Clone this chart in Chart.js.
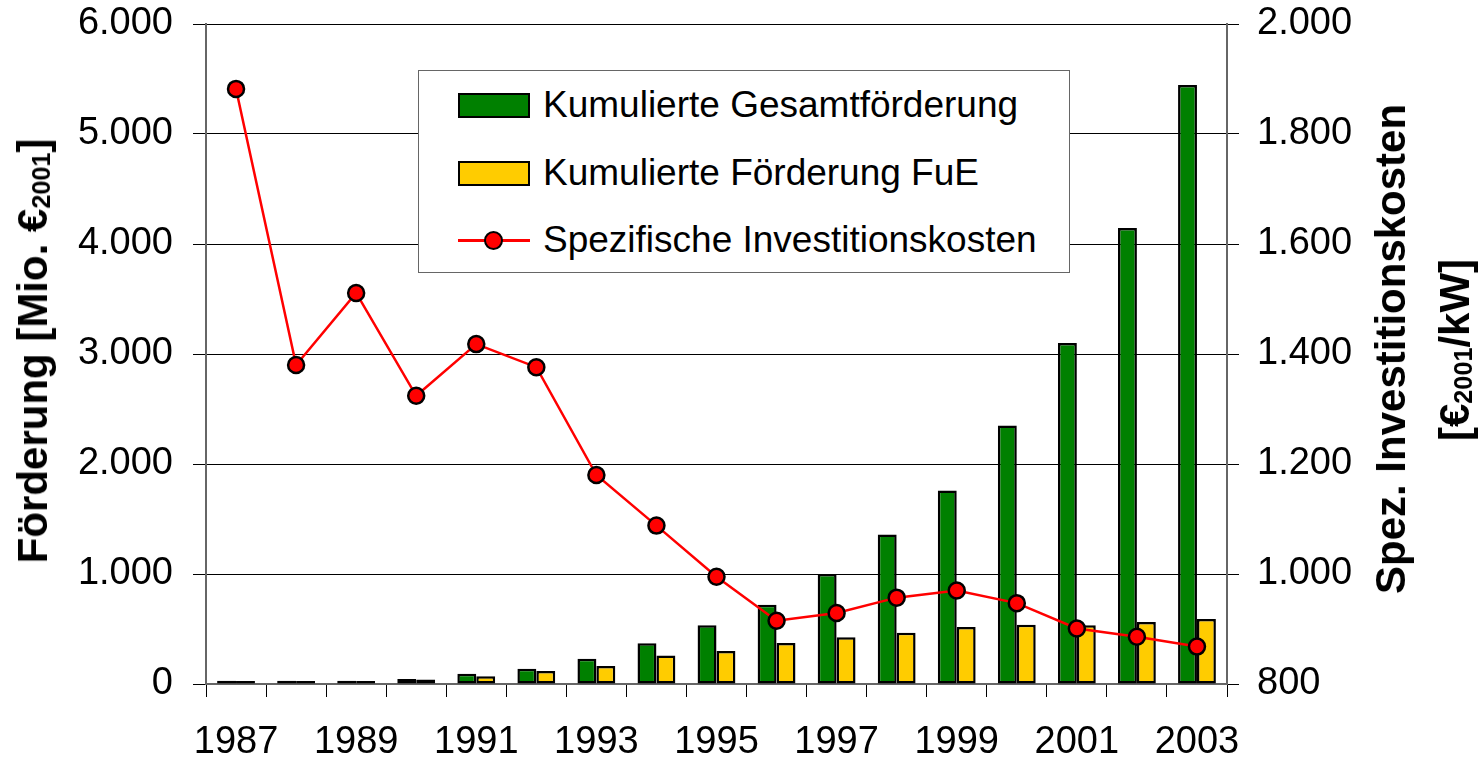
<!DOCTYPE html>
<html lang="de">
<head>
<meta charset="utf-8">
<title>Förderung und spezifische Investitionskosten</title>
<script src="https://cdn.jsdelivr.net/npm/chart.js@4.4.1/dist/chart.umd.min.js"></script>
<style>
  body { margin: 0; background: #fff; }
  #wrap { position: relative; width: 1483px; height: 762px; font-family: "Liberation Sans", Arial, sans-serif; }
  #chart { position: absolute; left: 0; top: 0; }
  .titel { position: absolute; font-weight: bold; font-size: 42px; color: #000; white-space: nowrap; transform: translate(-50%, -50%) rotate(-90deg); line-height: 1; }
  .titel sub { font-size: 0.6em; vertical-align: -0.1em; }
  #legende { position: absolute; left: 418px; top: 70px; width: 650px; height: 201px; border: 1.5px solid #666; background: #fff; }
  .eintrag { position: absolute; left: 0; height: 40px; display: flex; align-items: center; font-size: 37px; color: #000; white-space: nowrap; }
  .box { position: absolute; left: 39px; width: 68px; height: 21px; border: 2px solid #000; }
  .linie { position: absolute; left: 39px; top: 19px; width: 72px; height: 2.5px; background: #f00; }
  .punkt { position: absolute; left: 65px; top: 11px; width: 15px; height: 15px; border-radius: 50%; background: #f00; border: 2.5px solid #000; }
  .text { position: absolute; left: 124px; top: 0; line-height: 40px; }
</style>
</head>
<body>
<div id="wrap">
  <canvas id="chart" width="1483" height="762"></canvas>

  <!-- Achsentitel -->
  <div class="titel" style="left:33px; top:351px;">Förderung [Mio. €<sub>2001</sub>]</div>
  <div class="titel" style="left:1391px; top:349px;">Spez. Investitionskosten</div>
  <div class="titel" style="left:1455px; top:350px;">[€<sub>2001</sub>/kW]</div>

  <!-- Legende -->
  <div id="legende">
    <div class="eintrag" style="top:14px;">
      <div class="box" style="top:8px; background:#008000;"></div>
      <div class="text">Kumulierte Gesamtförderung</div>
    </div>
    <div class="eintrag" style="top:82px;">
      <div class="box" style="top:8px; background:#ffcc00;"></div>
      <div class="text">Kumulierte Förderung FuE</div>
    </div>
    <div class="eintrag" style="top:149px;">
      <div class="linie"></div>
      <div class="punkt"></div>
      <div class="text">Spezifische Investitionskosten</div>
    </div>
  </div>
</div>

<script>
// Jahre (Kategorien)
const jahre = ["1987", "1988", "1989", "1990", "1991", "1992", "1993", "1994", "1995",
  "1996", "1997", "1998", "1999", "2000", "2001", "2002", "2003"];

// Kumulierte Gesamtförderung [Mio. €2001]
const gesamtFoerderung = [30, 30, 30, 45, 94, 139, 230, 370, 535, 720, 1000, 1360, 1760,
  2350, 3100, 4145, 5445];

// Kumulierte Förderung FuE [Mio. €2001]
const foerderungFuE = [28, 28, 28, 42, 70, 118, 164, 258, 300, 372, 424, 467, 519,
  538, 535, 563, 591];

// Spezifische Investitionskosten [€2001/kW]
const investKosten = [1882, 1380, 1511, 1324, 1418, 1376, 1180, 1088, 995, 915, 929, 957,
  970, 947, 901, 886, 868];

// Achsenbereiche
const linksMin = 0, linksMax = 6000, linksSchritt = 1000;
const rechtsMin = 800, rechtsMax = 2000, rechtsSchritt = 200;

// Tausenderpunkt wie im Original
const mitPunkt = (v) => String(v).replace(/\B(?=(\d{3})+(?!\d))/g, ".");

const schrift = { family: "'Liberation Sans', Arial, sans-serif", size: 38, lineHeight: 1 };

// feste Breiten/Höhen der Achsen, ohne Zusatzabstand oben/unten
const fixBreite = (w) => (s) => { s.width = w; s.paddingTop = 0; s.paddingBottom = 0; };

new Chart(document.getElementById("chart"), {
  data: {
    labels: jahre,
    datasets: [
      {
        type: "line",
        label: "Spezifische Investitionskosten",
        data: investKosten,
        yAxisID: "y1",
        order: 0,
        borderColor: "#ff0000",
        borderWidth: 2.5,
        tension: 0,
        pointRadius: 8,
        pointBackgroundColor: "#ff0000",
        pointBorderColor: "#000",
        pointBorderWidth: 2.5,
        clip: false,
      },
      {
        type: "bar",
        label: "Kumulierte Gesamtförderung",
        data: gesamtFoerderung,
        yAxisID: "y",
        order: 1,
        backgroundColor: "#008000",
        borderColor: "#000",
        borderWidth: 2.5,
        borderSkipped: false,
        categoryPercentage: 0.63,
        barPercentage: 1.0,
      },
      {
        type: "bar",
        label: "Kumulierte Förderung FuE",
        data: foerderungFuE,
        yAxisID: "y",
        order: 2,
        backgroundColor: "#ffcc00",
        borderColor: "#000",
        borderWidth: 2.5,
        borderSkipped: false,
        categoryPercentage: 0.63,
        barPercentage: 1.0,
      },
    ],
  },
  options: {
    responsive: false,
    animation: false,
    devicePixelRatio: 1,
    layout: { padding: { top: 24, left: 0, right: 0, bottom: 0 } },
    plugins: { legend: { display: false }, tooltip: { enabled: false } },
    scales: {
      x: {
        offset: true,
        grid: { offset: true, drawOnChartArea: false, drawTicks: true, tickLength: 13, color: "#000", lineWidth: 1 },
        border: { color: "#666", width: 2 },
        ticks: {
          autoSkip: false, maxRotation: 0, minRotation: 0, color: "#000", font: schrift, padding: 27,
          callback: (v, i) => (i % 2 === 0 ? jahre[i] : ""),
        },
        afterFit: (s) => { s.height = 78; },
      },
      y: {
        position: "left",
        min: linksMin, max: linksMax,
        grid: { color: "#000", lineWidth: 1, tickLength: 13 },
        border: { color: "#666", width: 2 },
        ticks: { stepSize: linksSchritt, color: "#000", font: schrift, padding: 20, callback: (v) => mitPunkt(v) },
        afterFit: fixBreite(206),
      },
      y1: {
        position: "right",
        min: rechtsMin, max: rechtsMax,
        grid: { drawOnChartArea: false, color: "#000", lineWidth: 1, tickLength: 12 },
        border: { color: "#666", width: 2 },
        ticks: { stepSize: rechtsSchritt, color: "#000", font: schrift, padding: 18, callback: (v) => mitPunkt(v) },
        afterFit: fixBreite(256),
      },
    },
  },
});
</script>
</body>
</html>
